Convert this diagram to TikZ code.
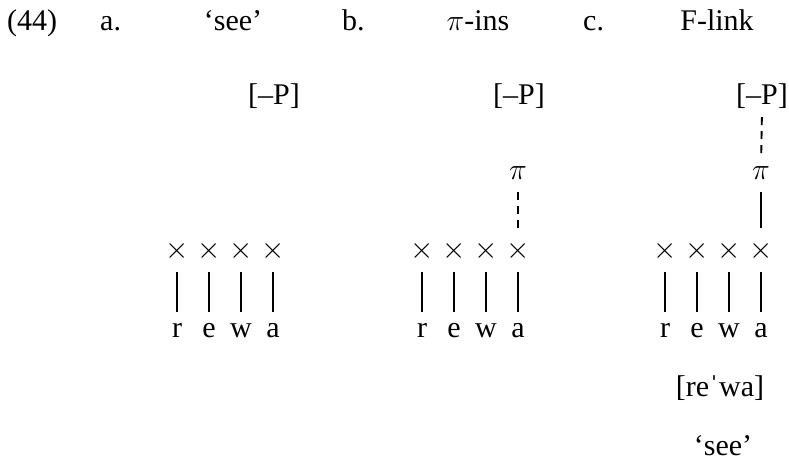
\RequirePackage{fix-cm}
\documentclass[tikz,border=0pt]{standalone}
\usepackage{fontspec}
\setmainfont{Liberation Serif}
\begin{document}
\begin{tikzpicture}[x=1bp,y=-1bp,
  every node/.style={inner sep=0pt,font=\fontsize{30bp}{36bp}\selectfont},
  hdr/.style={anchor=base west},
  hdrc/.style={anchor=base},
  xmark/.style={anchor=center},
  seg/.style={anchor=base,text height=14bp,text depth=0pt},
  assoc/.style={line width=1.9bp},
  dassoc/.style={line width=1.9bp,dash pattern=on 8bp off 6bp},
]
\useasboundingbox (0,0) rectangle (789,461);
% header
\node[hdr] (num) at (7,31) {(44)};
\node[hdr] (la) at (100,31) {a.};
\node[hdrc] (ta) at (233,31) {‘see’};
\node[hdr] (lb) at (342,31) {b.};
\node[hdrc] (tb) at (478,31) {$\pi$-ins};
\node[hdr] (lc) at (583,31) {c.};
\node[hdrc] (tc) at (717,31) {F-link};
% columns
\foreach \c/\x in {a/177,b/422,c/665}{
  \foreach \i/\l/\d in {1/r/0,2/e/32,3/w/64,4/a/96}{
    \node[xmark] (\c x\i) at (\x+\d,251) {$\times$};
    \node[seg] (\c s\i) at (\x+\d,338) {\l};
    \draw[assoc,shorten <=11bp,shorten >=12bp] (\c x\i.south) -- (\c s\i.north);
  }
  \node[hdrc] (\c P) at (\x+97,105) {[–P]};
}
% b: pi insertion
\node[anchor=base] (bpi) at (518,180) {$\pi$};
\draw[dassoc,shorten <=12bp,shorten >=13bp] (bpi.south) -- (bx4.north);
% c: F-link
\node[anchor=base] (cpi) at (761,180) {$\pi$};
\draw[assoc,shorten <=12bp,shorten >=13bp] (cpi.south) -- (cx4.north);
\draw[dassoc,shorten <=8bp,shorten >=9bp] (cP.south) -- (cpi.north);
\node[anchor=base] (ipa) at (720,396) {[re\char"02C8 wa]};
\node[anchor=base] (gl) at (723,455) {‘see’};
\end{tikzpicture}
\end{document}
